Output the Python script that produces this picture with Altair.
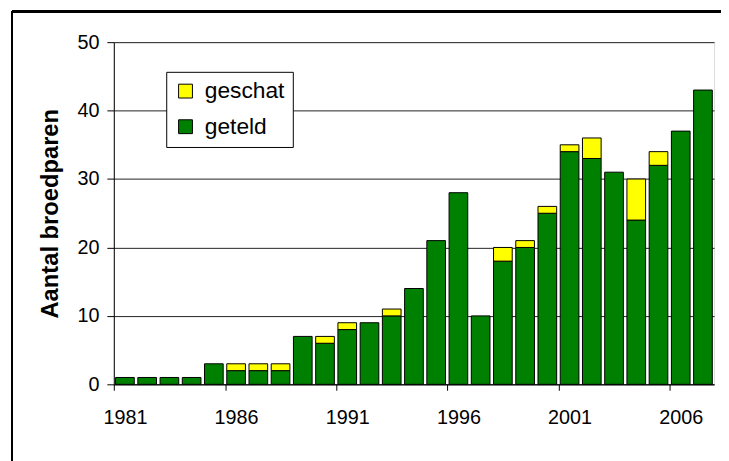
import altair as alt
import pandas as pd

years = list(range(1981, 2008))
geteld = [1, 1, 1, 1, 3, 2, 2, 2, 7, 6, 8, 9, 10, 14, 21, 28, 10, 18, 20, 25, 34, 33, 31, 24, 32, 37, 43]
geschat = [0, 0, 0, 0, 0, 1, 1, 1, 0, 1, 1, 0, 1, 0, 0, 0, 0, 2, 1, 1, 1, 3, 0, 6, 2, 0, 0]
series = ["geschat", "geteld"]
colors = ["#FFFF00", "#008000"]
x_labels = [1981, 1986, 1991, 1996, 2001, 2006]
y_ticks = [0, 10, 20, 30, 40, 50]

rows = []
for y, g, s in zip(years, geteld, geschat):
    rows.append({"jaar": y, "reeks": "geteld", "aantal": g, "volg": 0})
    if s > 0:
        rows.append({"jaar": y, "reeks": "geschat", "aantal": s, "volg": 1})
df = pd.DataFrame(rows)

W, H = 607, 346
FONT = "Liberation Sans"

bars = alt.Chart(df).mark_bar(stroke="black", strokeWidth=1).encode(
    x=alt.X("jaar:O",
            scale=alt.Scale(domain=years, paddingInner=0.16, paddingOuter=0.08),
            axis=alt.Axis(values=x_labels, title=None, labelAngle=0,
                          bandPosition=0, tickOffset=-1.7, labelOffset=1.7,
                          tickSize=6, tickColor="black", domainColor="black",
                          labelFontSize=20, labelColor="black", labelFont=FONT,
                          labelPadding=18, grid=False)),
    y=alt.Y("sum(aantal):Q",
            scale=alt.Scale(domain=[0, 50], nice=False),
            axis=alt.Axis(values=y_ticks, title="Aantal broedparen",
                          titleFontSize=24, titleFont=FONT, titleFontWeight="bold",
                          titleColor="black", titlePadding=15,
                          tickSize=7, tickColor="black", domainColor="black",
                          labelFontSize=20, labelColor="black", labelFont=FONT,
                          labelPadding=8, grid=True, gridColor="#222222",
                          gridWidth=1)),
    color=alt.Color("reeks:N",
                    scale=alt.Scale(domain=series, range=colors),
                    legend=alt.Legend(title=None, orient="none", legendX=53, legendY=30,
                                      strokeColor="black", fillColor="white",
                                      padding=8, cornerRadius=0,
                                      symbolType="square", symbolSize=196,
                                      symbolStrokeColor="black", symbolStrokeWidth=1,
                                      symbolOpacity=1,
                                      labelFontSize=23, labelFont=FONT, labelColor="black",
                                      rowPadding=12, labelLimit=300, labelOffset=8)),
    order=alt.Order("volg:Q", sort="ascending"),
)

border_left = alt.Chart(df).mark_rule(color="black", strokeWidth=1.5).encode(
    x=alt.value(-103), y=alt.value(-31), y2=alt.value(H + 80)
)
border_top = alt.Chart(df).mark_rule(color="black", strokeWidth=1.5).encode(
    y=alt.value(-31), x=alt.value(-103), x2=alt.value(W + 20)
)

chart = alt.layer(bars, border_left, border_top).properties(
    width=W, height=H,
    autosize=alt.AutoSizeParams(type="none"),
    padding={"left": 107, "top": 32, "right": 7, "bottom": 75},
).configure_view(stroke="black", strokeWidth=1).configure(background="white")

chart.save("out.html", embed_options={"renderer": "svg", "actions": False})
